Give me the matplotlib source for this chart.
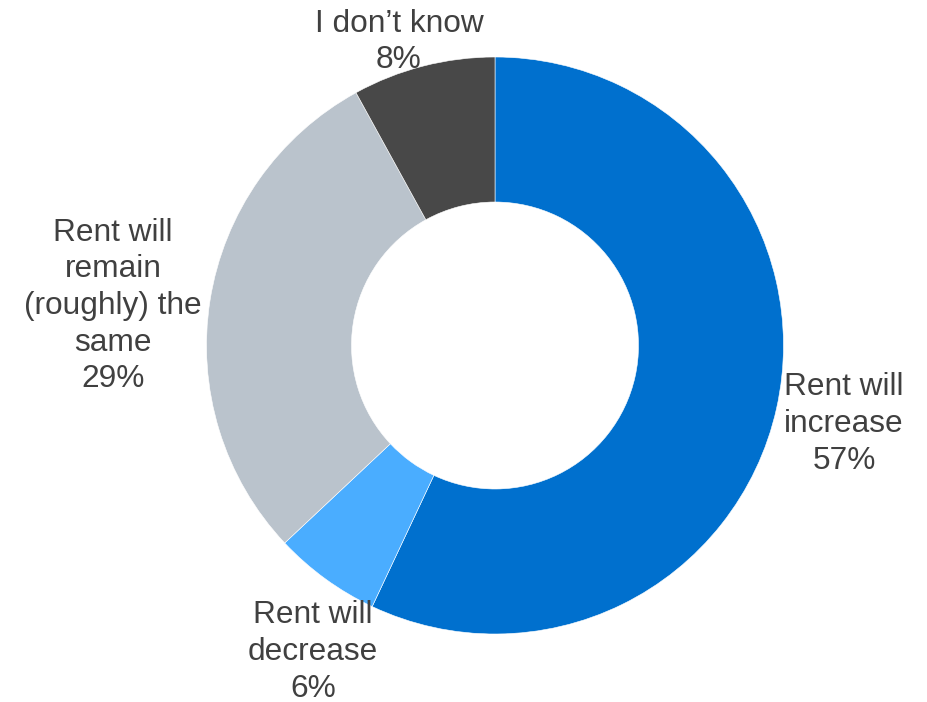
"""
Donut chart of expected rent development
"""
import matplotlib.pyplot as plt

# Survey answers, clockwise from 12 o'clock
labels = ["Rent will\nincrease", "Rent will\ndecrease",
          "Rent will\nremain\n(roughly) the\nsame", "I don\u2019t know"]
shares = [57, 6, 29, 8]
colors = ["#0070CE", "#4AADFF", "#BAC3CC", "#484848"]

# label anchor points in pixel coordinates (origin bottom-left)
label_xy = [(844, 278), (313, 50), (113, 396), (399, 660)]

W, H = 928, 702
fig = plt.figure(figsize=(W / 100, H / 100), dpi=100)
ax = fig.add_axes([0, 0, 1, 1])

outer_r = 288.5
inner_r = 143.5
center = (495, H - 345.5)

ax.pie(shares, colors=colors, startangle=90, counterclock=False,
       radius=outer_r, center=center,
       wedgeprops=dict(width=outer_r - inner_r, edgecolor="white", linewidth=0.4))

for lab, val, (x, y) in zip(labels, shares, label_xy):
    ax.text(x, y, f"{lab}\n{val}%", ha="center", va="center",
            fontsize=22.8, color="#404040", family="Liberation Sans",
            linespacing=1.29)

ax.set_xlim(0, W)
ax.set_ylim(0, H)
ax.set_aspect("auto")
ax.axis("off")

plt.savefig("out.png", dpi=100)
